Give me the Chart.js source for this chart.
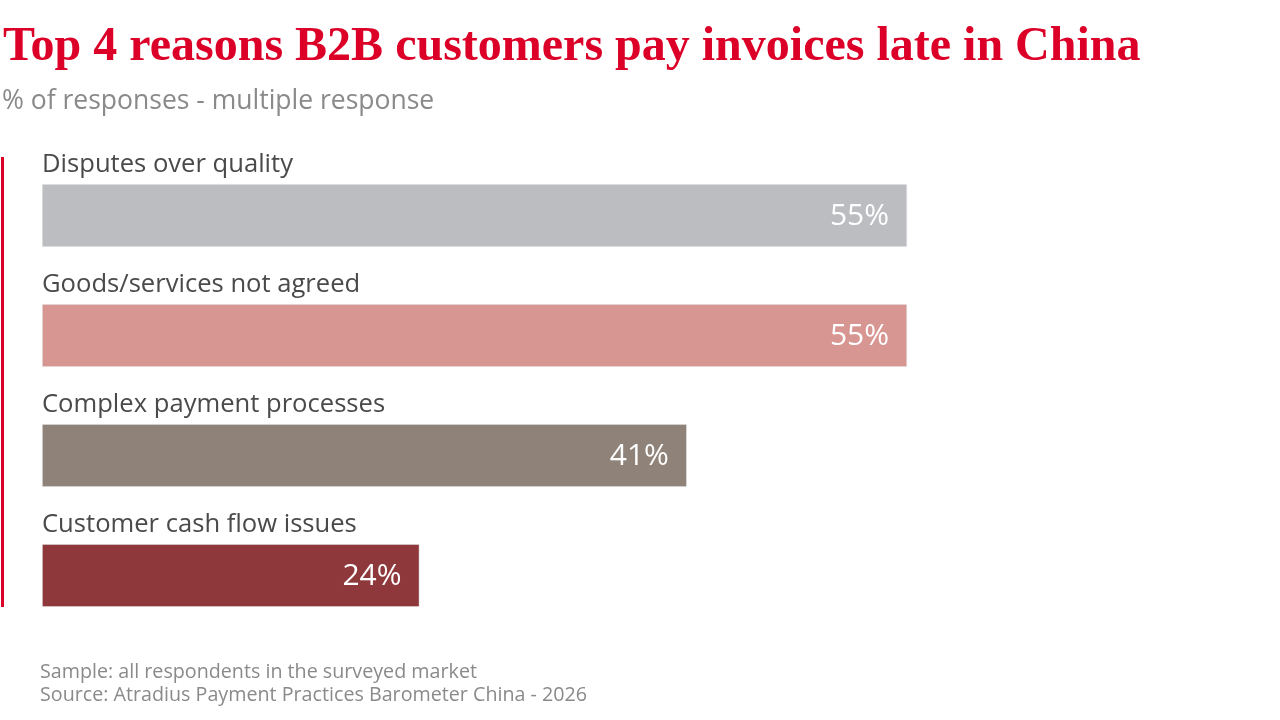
<!DOCTYPE html>
<html>
<head>
<meta charset="utf-8">
<script src="https://cdn.jsdelivr.net/npm/chart.js@4"></script>
<style>
  html, body { margin: 0; padding: 0; background: #fff; }
  body { width: 1280px; height: 720px; position: relative; overflow: hidden; font-family: "Open Sans", sans-serif; }
  #title { position: absolute; left: 3px; top: 16px; font-family: "Liberation Serif", serif; font-weight: bold; font-size: 48px; color: #dc0028; white-space: nowrap; }
  #subtitle { position: absolute; left: 2px; top: 81px; font-size: 26.5px; color: #8a8a8a; white-space: nowrap; }
  #redline { position: absolute; left: 1px; top: 157px; width: 3px; height: 450px; background: #dc0028; }
  #notes { position: absolute; left: 40px; top: 659px; font-size: 19.7px; line-height: 23px; color: #8a8a8a; }
  #chart { position: absolute; left: 0; top: 0; }
</style>
</head>
<body>
<canvas id="chart" width="1280" height="720"></canvas>
<div id="title">Top 4 reasons B2B customers pay invoices late in China</div>
<div id="subtitle">% of responses - multiple response</div>
<div id="redline"></div>
<div id="notes">Sample: all respondents in the surveyed market<br>Source: Atradius Payment Practices Barometer China - 2026</div>
<script>
  // Chart data
  const reasons = ['Disputes over quality', 'Goods/services not agreed', 'Complex payment processes', 'Customer cash flow issues'];
  const shares = [55, 55, 41, 24];
  const barColors = ['#bcbdc1', '#d89693', '#8f8279', '#8e383b'];

  // Draw category names above each bar and the value inside its end
  const barLabels = {
    id: 'barLabels',
    afterDatasetsDraw(chart) {
      const ctx = chart.ctx;
      const meta = chart.getDatasetMeta(0);
      ctx.save();
      meta.data.forEach((bar, i) => {
        const top = bar.y - bar.height / 2;
        ctx.font = '25.6px "Open Sans", sans-serif';
        ctx.fillStyle = '#4a4a4a';
        ctx.textAlign = 'left';
        ctx.textBaseline = 'alphabetic';
        ctx.fillText(reasons[i], bar.base, top - 12);

        ctx.font = '30px "Open Sans", sans-serif';
        ctx.fillStyle = '#ffffff';
        ctx.textAlign = 'right';
        ctx.textBaseline = 'middle';
        ctx.fillText(shares[i] + '%', bar.x - 18, bar.y + 1);
      });
      ctx.restore();
    }
  };

  new Chart(document.getElementById('chart'), {
    type: 'bar',
    data: {
      labels: reasons,
      datasets: [{
        data: shares,
        backgroundColor: barColors,
        borderColor: '#e9e9ea',
        borderWidth: 1,
        borderSkipped: false,
        barThickness: 63
      }]
    },
    options: {
      indexAxis: 'y',
      responsive: false,
      animation: false,
      layout: { padding: { left: 42, top: 155.5, bottom: 84.5, right: 137 } },
      scales: {
        x: { display: false, min: 0, max: 70 },
        y: { display: false }
      },
      plugins: {
        legend: { display: false },
        tooltip: { enabled: false }
      }
    },
    plugins: [barLabels]
  });
</script>
</body>
</html>
